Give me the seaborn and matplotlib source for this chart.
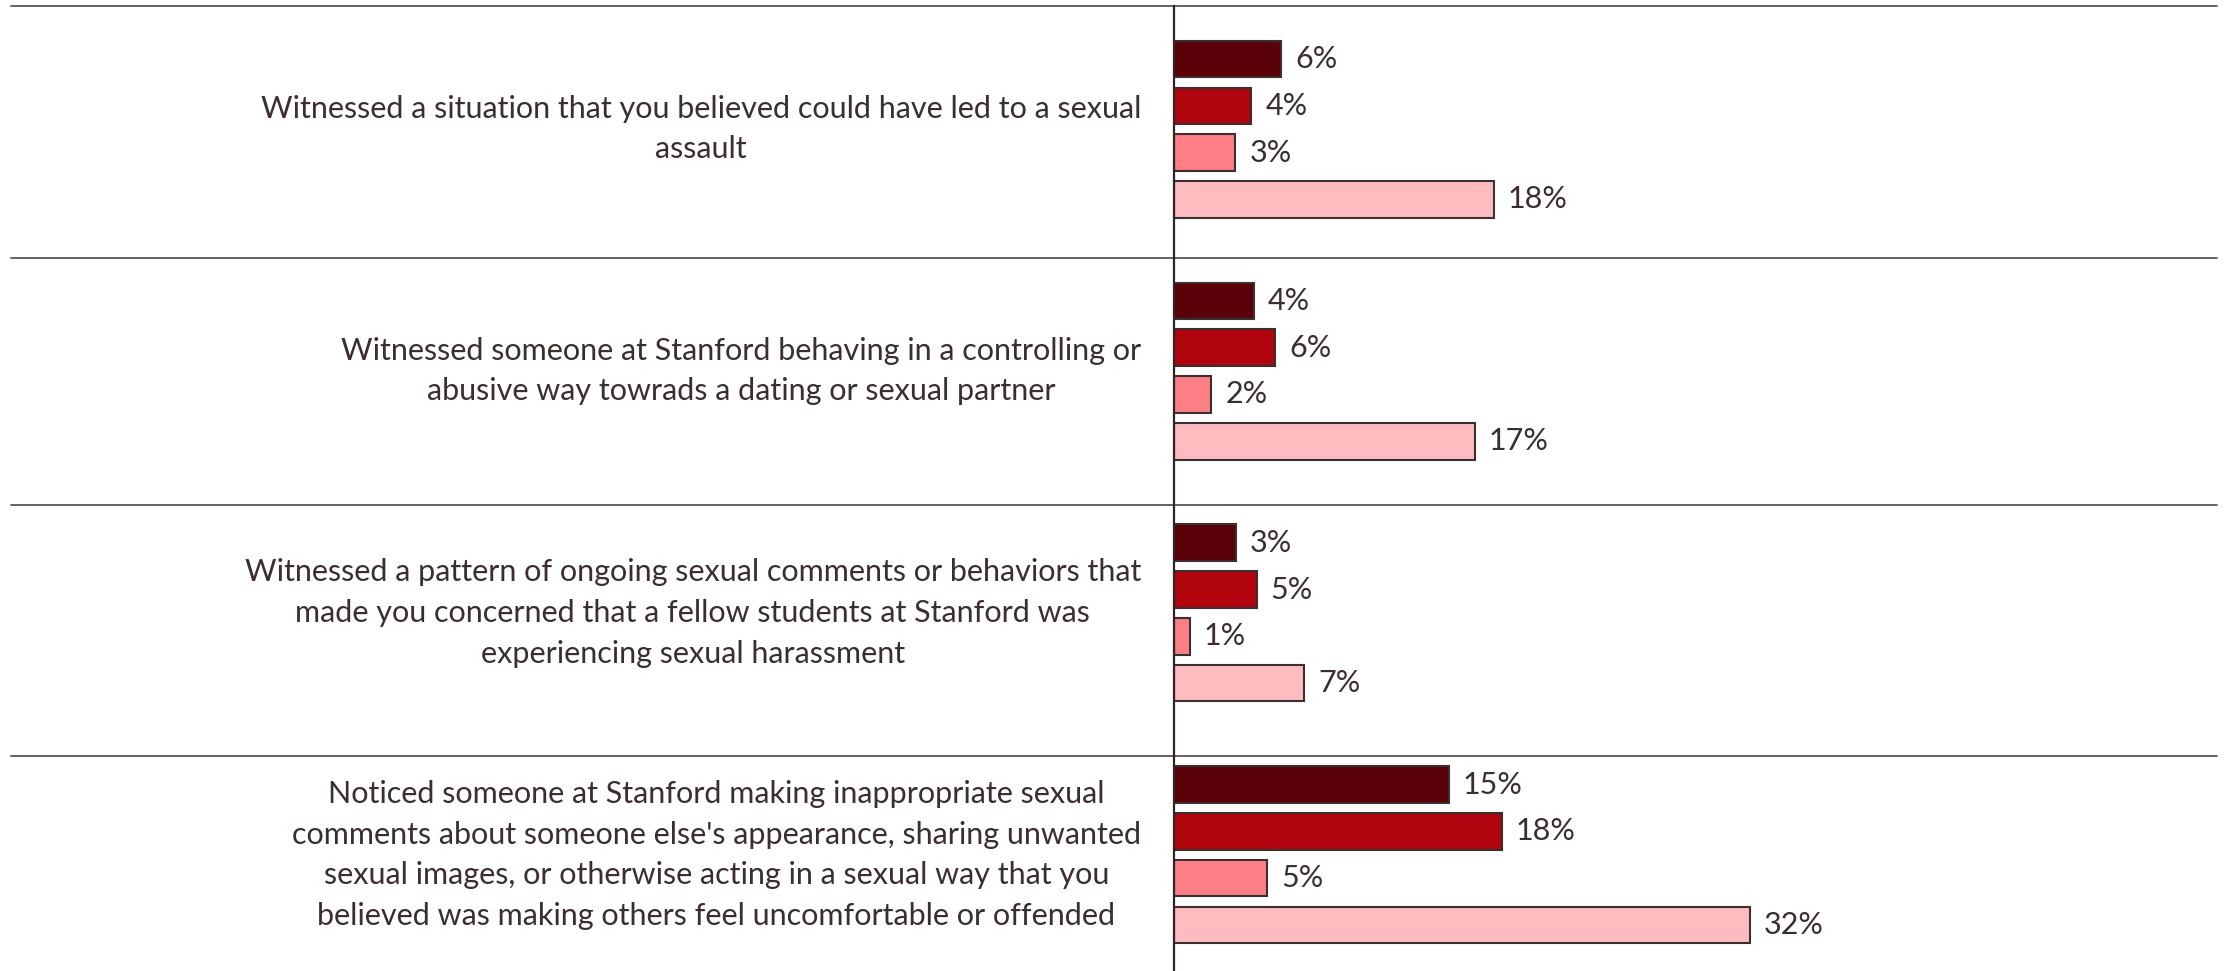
import pandas as pd
import seaborn as sns
import matplotlib.pyplot as plt

# survey items (y categories)
questions = [
    "Witnessed a situation that you believed could have led to a sexual\nassault",
    "Witnessed someone at Stanford behaving in a controlling or\nabusive way towrads a dating or sexual partner",
    "Witnessed a pattern of ongoing sexual comments or behaviors that\nmade you concerned that a fellow students at Stanford was\nexperiencing sexual harassment",
    "Noticed someone at Stanford making inappropriate sexual\ncomments about someone else's appearance, sharing unwanted\nsexual images, or otherwise acting in a sexual way that you\nbelieved was making others feel uncomfortable or offended",
]
series_names = ["Series 1", "Series 2", "Series 3", "Series 4"]
series_1 = [5.96, 4.46, 3.44, 15.29]
series_2 = [4.31, 5.64, 4.61, 18.24]
series_3 = [3.42, 2.09, 0.91, 5.20]
series_4 = [17.78, 16.74, 7.26, 32.00]
colors = ["#5a0008", "#b1040e", "#ff7f87", "#ffbcc0"]

rows = []
for name, vals in zip(series_names, [series_1, series_2, series_3, series_4]):
    for q, v in zip(questions, vals):
        rows.append({"question": q, "series": name, "value": v})
df = pd.DataFrame(rows)

sns.set_style("white")
plt.rcParams["font.family"] = ["Lato", "DejaVu Sans"]
text_color = "#3a2e2e"
edge_color = "#3b2f2f"

fig = plt.figure(figsize=(22.31, 9.71), dpi=100)
ax = fig.add_axes([0.5261, 0.0, 0.4676, 0.9941])

sns.barplot(data=df, y="question", x="value", hue="series", orient="h",
            hue_order=series_names, palette=colors, saturation=1,
            width=0.7756, gap=0.228, edgecolor=edge_color, linewidth=1.5,
            legend=False, ax=ax)

for c in ax.containers:
    ax.bar_label(c, fmt="{:.0f}%", padding=10, fontsize=22, color=text_color)

ax.set_xlim(0, 57.96)
ax.set_ylim(3.480, -0.510)
ax.set_xticks([])
ax.set_yticks(range(len(questions)))
ax.set_yticklabels(questions, ma="center", va="center", fontsize=22,
                   color=text_color, linespacing=1.55)
ax.tick_params(axis="y", length=0, pad=23.5)
ax.set_xlabel("")
ax.set_ylabel("")

for side in ["top", "right", "bottom"]:
    ax.spines[side].set_visible(False)
ax.spines["left"].set_color("#2e2626")
ax.spines["left"].set_linewidth(1.6)

# horizontal separators between the question blocks
for y in [-0.5101, 0.5308, 1.5550, 2.5903]:
    ax.plot([-1.1144, 1.0], [y, y], transform=ax.get_yaxis_transform(),
            color="#5a5555", lw=1.3, clip_on=False)

plt.savefig("out.png", dpi=100)
